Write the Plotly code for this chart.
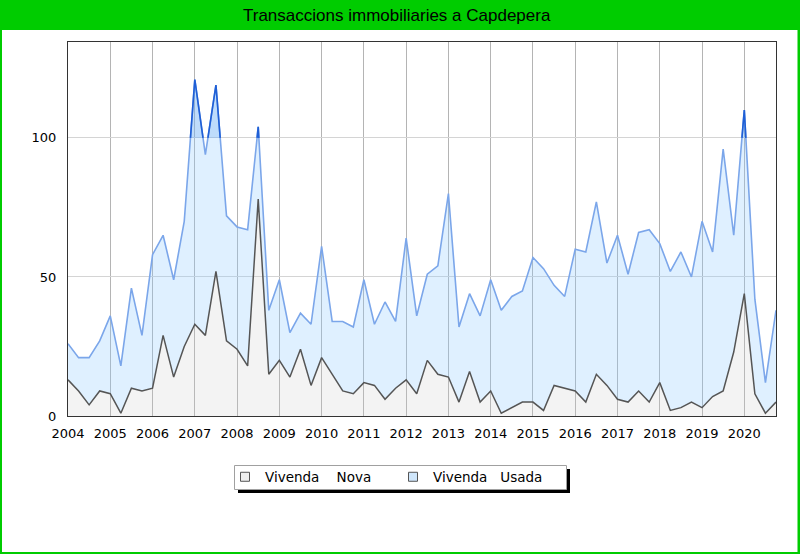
import plotly.graph_objects as go

# quarterly transactions, 2004 Q1 .. 2020 Q4
years = list(range(2004, 2021))
vivenda_nova = [13, 9, 4, 9,   8, 1, 10, 9,   10, 29, 14, 25,   33, 29, 52, 27,
                24, 18, 78, 15,   20, 14, 24, 11,   21, 15, 9, 8,   12, 11, 6, 10,
                13, 8, 20, 15,   14, 5, 16, 5,   9, 1, 3, 5,   5, 2, 11, 10,
                9, 5, 15, 11,   6, 5, 9, 5,   12, 2, 3, 5,   3, 7, 9, 23,
                44, 8, 1, 5]
vivenda_usada = [13, 12, 17, 18,   28, 17, 36, 20,   48, 36, 35, 45,   88, 65, 67, 45,
                 44, 49, 26, 23,   29, 16, 13, 22,   40, 19, 25, 24,   37, 22, 35, 24,
                 51, 28, 31, 39,   66, 27, 28, 31,   40, 37, 40, 40,   52, 51, 36, 33,
                 51, 54, 62, 44,   59, 46, 57, 62,   50, 50, 56, 45,   67, 52, 87, 42,
                 66, 34, 11, 33]
series_names = ["Vivenda\u00a0\u00a0\u00a0\u00a0Nova", "Vivenda\u00a0\u00a0\u00a0Usada"]

x = [y + q / 4 for y in years for q in range(4)]
total = [n + u for n, u in zip(vivenda_nova, vivenda_usada)]

# parts of the total line above the 100 gridline are drawn darker
lim = 100
px, py = [], []
for i in range(len(x)):
    if total[i] > lim:
        if i > 0 and total[i - 1] <= lim:
            t = (lim - total[i - 1]) / (total[i] - total[i - 1])
            px.append(x[i - 1] + t * (x[i] - x[i - 1]))
            py.append(lim)
        px.append(x[i])
        py.append(total[i])
        if i < len(x) - 1 and total[i + 1] <= lim:
            t = (total[i] - lim) / (total[i] - total[i + 1])
            px.append(x[i] + t * (x[i + 1] - x[i]))
            py.append(lim)
            px.append(None)
            py.append(None)

fig = go.Figure()
fig.add_trace(go.Scatter(
    x=x, y=vivenda_nova, stackgroup="one", mode="lines",
    line=dict(color="#555555", width=1.5),
    fillcolor="rgba(200,200,200,0.22)", showlegend=False, hoverinfo="skip",
))
fig.add_trace(go.Scatter(
    x=x, y=vivenda_usada, stackgroup="one", mode="lines",
    line=dict(color="#7ba6ea", width=1.6),
    fillcolor="rgba(140,200,255,0.28)", showlegend=False, hoverinfo="skip",
))
fig.add_trace(go.Scatter(
    x=px, y=py, mode="lines", fill="toself",
    line=dict(color="#1f5fd6", width=1.6),
    fillcolor="rgba(90,160,240,0.25)", showlegend=False, hoverinfo="skip",
))

# legend entries with square swatches
fig.add_trace(go.Scatter(
    x=[None], y=[None], mode="markers", name=series_names[0],
    marker=dict(symbol="square", size=9, color="#eeeeee",
                line=dict(color="#555555", width=1)),
))
fig.add_trace(go.Scatter(
    x=[None], y=[None], mode="markers", name=series_names[1],
    marker=dict(symbol="square", size=9, color="#cfe6fb",
                line=dict(color="#555555", width=1)),
))

W, H = 800, 554
L, R, T, B = 68, 24, 42, 138
pw, ph = W - L - R, H - T - B


def pxx(v):
    return (v - L) / pw


def pxy(v):
    return (H - B - v) / ph


green = "#00cc00"
shapes = [
    # title band
    dict(type="rect", xref="paper", yref="paper", x0=pxx(0), x1=pxx(W),
         y0=pxy(30), y1=pxy(0), fillcolor=green, line_width=0, layer="below"),
    # green frame
    dict(type="rect", xref="paper", yref="paper", x0=pxx(0), x1=pxx(2),
         y0=pxy(H), y1=pxy(0), fillcolor=green, line_width=0, layer="below"),
    dict(type="rect", xref="paper", yref="paper", x0=pxx(W - 2.5), x1=pxx(W),
         y0=pxy(H), y1=pxy(0), fillcolor=green, line_width=0, layer="below"),
    dict(type="rect", xref="paper", yref="paper", x0=pxx(0), x1=pxx(W),
         y0=pxy(H), y1=pxy(H - 2), fillcolor=green, line_width=0, layer="below"),
    # legend box with shadow
    dict(type="rect", xref="paper", yref="paper", x0=pxx(238), x1=pxx(570),
         y0=pxy(493), y1=pxy(469), fillcolor="black", line_width=0),
    dict(type="rect", xref="paper", yref="paper", x0=pxx(234.5), x1=pxx(566.5),
         y0=pxy(489.5), y1=pxy(465.5), fillcolor="white",
         line=dict(color="#a0a0a0", width=1)),
]

fig.update_layout(
    width=W, height=H,
    margin=dict(l=L, r=R, t=T, b=B),
    paper_bgcolor="white", plot_bgcolor="white",
    font=dict(family="DejaVu Sans, Verdana, sans-serif", size=13, color="black"),
    shapes=shapes,
    annotations=[dict(
        text="Transaccions immobiliaries a Capdepera",
        xref="paper", yref="paper", x=pxx(397), y=pxy(16),
        xanchor="center", yanchor="middle", showarrow=False,
        font=dict(family="Liberation Sans, Arial, sans-serif",
                  size=17, color="black"),
    )],
    showlegend=True,
    legend=dict(
        orientation="h", traceorder="normal",
        x=pxx(225), xanchor="left", y=pxy(477), yanchor="middle",
        bgcolor="rgba(0,0,0,0)", borderwidth=0,
        font=dict(family="DejaVu Sans, Verdana, sans-serif", size=13.5),
        entrywidth=123, itemwidth=30,
    ),
    xaxis=dict(
        range=[2004, 2020.75], tickmode="array", tickvals=years,
        ticktext=[str(y) for y in years],
        showgrid=True, gridcolor="#b4b4b4", gridwidth=1,
        showline=True, linecolor="#333333", linewidth=1, mirror=True,
        ticks="", zeroline=False, ticklabelstandoff=5,
    ),
    yaxis=dict(
        range=[0, 134.5], tickvals=[0, 50, 100],
        showgrid=True, gridcolor="#d4d4d4", gridwidth=1,
        showline=True, linecolor="#333333", linewidth=1, mirror=True,
        ticks="", zeroline=False, ticklabelstandoff=8,
    ),
)

fig.write_html(
    "out.html",
    config={"displayModeBar": False},
    post_script="document.body.style.margin='0px';document.body.style.padding='0px';",
)
